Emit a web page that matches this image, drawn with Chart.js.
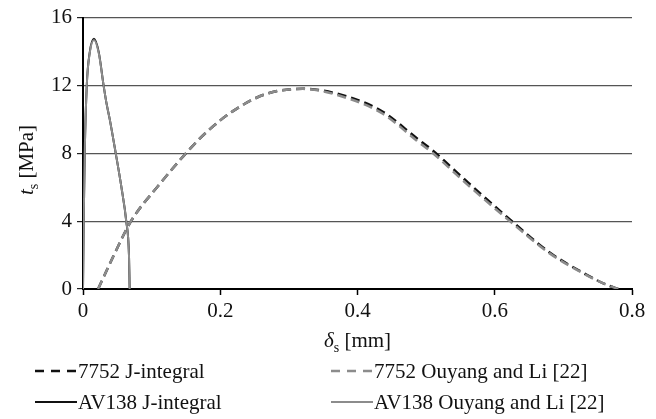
<!DOCTYPE html>
<html>
<head>
<meta charset="utf-8">
<script src="https://cdn.jsdelivr.net/npm/chart.js@4.4.1/dist/chart.umd.min.js"></script>
<style>
  html, body { margin: 0; padding: 0; background: #fff; }
  #wrap { width: 656px; height: 419px; position: relative; }
</style>
</head>
<body>
<div id="wrap"><canvas id="chart"></canvas></div>
<script>
// values: delta_s in mm, t_s in MPa
const delta7752 = [0.022, 0.045, 0.070, 0.110, 0.150, 0.180, 0.219, 0.267, 0.320, 0.389, 0.437, 0.486, 0.510, 0.559, 0.622, 0.680, 0.729, 0.760, 0.780];
const t7752J     = [0, 2.0, 4.0, 6.1, 8.0, 9.25, 10.5, 11.5, 11.8, 11.3, 10.45, 8.9, 8.15, 6.35, 4.1, 2.15, 0.95, 0.3, 0];
const t7752Ouyang = [0, 2.0, 4.0, 6.1, 8.0, 9.25, 10.5, 11.5, 11.8, 11.2, 10.33, 8.76, 8.0, 6.2, 4.0, 2.1, 0.92, 0.3, 0];

const deltaAV138 = [0, 0.001, 0.0025, 0.0055, 0.0098, 0.016, 0.023, 0.030, 0.034, 0.039, 0.0477, 0.056, 0.063, 0.067, 0.068];
const tAV138J      = [0, 4, 8, 12, 13.95, 14.75, 13.95, 12, 11, 10, 8, 6, 4, 2, 0];
const tAV138Ouyang = [0, 4, 8, 12, 13.9, 14.68, 13.9, 12, 11, 10, 8, 6, 4, 2, 0];

const xTicks = [0, 0.2, 0.4, 0.6, 0.8];
const yTicks = [0, 4, 8, 12, 16];

const labels = ['7752 J-integral', '7752 Ouyang and Li [22]', 'AV138 J-integral', 'AV138 Ouyang and Li [22]'];

const FONT = 'Liberation Serif';
const GREY = '#8c8c8c';

const pts = (xs, ys) => xs.map((x, i) => ({ x: x, y: ys[i] }));

const line = (label, data, color, dash, width, order) => ({
  label: label,
  data: data,
  borderColor: color,
  borderWidth: width,
  borderDash: dash,
  pointRadius: 0,
  fill: false,
  tension: 0.4,
  cubicInterpolationMode: 'monotone',
  order: order
});

// axis titles with italic symbol and subscript
const titles = {
  id: 'titles',
  afterDraw(chart) {
    const ctx = chart.ctx;
    const area = chart.chartArea;
    const drawTitle = (sym, rest) => {
      ctx.font = 'italic 21px "' + FONT + '"';
      const w1 = ctx.measureText(sym).width;
      ctx.font = '14px "' + FONT + '"';
      const w2 = ctx.measureText('s').width;
      ctx.font = '21px "' + FONT + '"';
      const w3 = ctx.measureText(rest).width;
      let x = -(w1 + w2 + w3) / 2;
      ctx.fillStyle = '#111';
      ctx.textBaseline = 'alphabetic';
      ctx.textAlign = 'left';
      ctx.font = 'italic 21px "' + FONT + '"';
      ctx.fillText(sym, x, 0);
      x += w1;
      ctx.font = '14px "' + FONT + '"';
      ctx.fillText('s', x, 5);
      x += w2;
      ctx.font = '21px "' + FONT + '"';
      ctx.fillText(rest, x, 0);
    };
    ctx.save();
    ctx.translate((area.left + area.right) / 2, 347);
    drawTitle('δ', ' [mm]');
    ctx.restore();
    ctx.save();
    ctx.translate(33, 160);
    ctx.rotate(-Math.PI / 2);
    drawTitle('t', ' [MPa]');
    ctx.restore();
  }
};

// two-column legend under the chart
const legend2 = {
  id: 'legend2',
  afterDraw(chart) {
    const ctx = chart.ctx;
    const cols = [35, 331];
    const rows = [371, 402];
    chart.data.datasets.forEach((ds, i) => {
      const x = cols[i % 2];
      const y = rows[Math.floor(i / 2)];
      ctx.save();
      ctx.strokeStyle = ds.borderColor;
      ctx.lineWidth = ds.borderWidth;
      ctx.setLineDash(ds.borderDash.length ? [9, 7] : []);
      ctx.beginPath();
      ctx.moveTo(x, y);
      ctx.lineTo(x + 42, y);
      ctx.stroke();
      ctx.setLineDash([]);
      ctx.fillStyle = '#111';
      ctx.font = '21px "' + FONT + '"';
      ctx.textBaseline = 'middle';
      ctx.textAlign = 'left';
      ctx.fillText(ds.label, x + 43, y + 1);
      ctx.restore();
    });
  }
};

new Chart(document.getElementById('chart'), {
  type: 'line',
  data: {
    datasets: [
      line(labels[0], pts(delta7752, t7752J), '#111', [9, 5], 2.5, 2),
      line(labels[1], pts(delta7752, t7752Ouyang), GREY, [9, 5], 2.5, 1),
      line(labels[2], pts(deltaAV138, tAV138J), '#111', [], 2, 2),
      line(labels[3], pts(deltaAV138, tAV138Ouyang), GREY, [], 2, 1)
    ]
  },
  options: {
    responsive: true,
    maintainAspectRatio: false,
    animation: false,
    layout: { padding: { left: 0, top: 17, right: 24, bottom: 0 } },
    plugins: { legend: { display: false }, tooltip: { enabled: false } },
    scales: {
      x: {
        type: 'linear',
        min: xTicks[0],
        max: xTicks[xTicks.length - 1],
        afterBuildTicks: s => { s.ticks = xTicks.map(v => ({ value: v })); },
        afterFit: s => { s.height = 130; },
        border: { color: '#000', width: 2 },
        grid: { drawOnChartArea: false, tickLength: 6, tickColor: '#000', tickWidth: 1.5 },
        ticks: {
          color: '#111',
          padding: 4,
          font: { family: FONT, size: 21 },
          callback: v => String(+v.toFixed(1))
        }
      },
      y: {
        type: 'linear',
        min: yTicks[0],
        max: yTicks[yTicks.length - 1],
        afterBuildTicks: s => { s.ticks = yTicks.map(v => ({ value: v })); },
        afterFit: s => { s.width = 83; },
        border: { color: '#000', width: 2 },
        grid: { color: '#555', lineWidth: 1.2, tickLength: 6, tickColor: '#222' },
        ticks: {
          color: '#111',
          padding: 5,
          font: { family: FONT, size: 21 }
        }
      }
    }
  },
  plugins: [titles, legend2]
});
</script>
</body>
</html>
